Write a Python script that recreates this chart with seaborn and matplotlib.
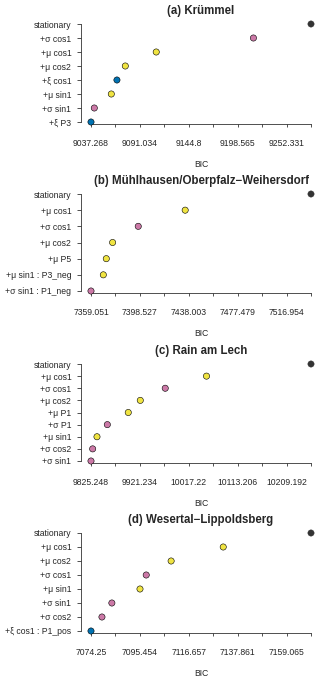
import matplotlib
matplotlib.use("Agg")
import matplotlib.pyplot as plt
import seaborn as sns
import numpy as np
import pandas as pd

sns.set_style("white")
plt.rcParams["font.family"] = ["Liberation Sans", "DejaVu Sans"]

# panel data: models listed top (stationary) to bottom (best), BIC
titles = ["(a) Krümmel",
          "(b) Mühlhausen/Oberpfalz\u2212Weihersdorf",
          "(c) Rain am Lech",
          "(d) Wesertal\u2212Lippoldsberg"]

models_a = ["stationary", "+σ cos1", "+μ cos1", "+μ cos2", "+ξ cos1", "+μ sin1", "+σ sin1", "+ξ P3"]
bic_a = [9279.215, 9215.9, 9109.0, 9075.0, 9065.8, 9059.6, 9040.9, 9037.268]
ticks_a = ["9037.268", "9091.034", "9144.8", "9198.565", "9252.331"]

models_b = ["stationary", "+μ cos1", "+σ cos1", "+μ cos2", "+μ P5", "+μ sin1 : P3_neg", "+σ sin1 : P1_neg"]
bic_b = [7536.693, 7435.1, 7397.2, 7376.5, 7371.4, 7369.0, 7359.051]
ticks_b = ["7359.051", "7398.527", "7438.003", "7477.479", "7516.954"]

models_c = ["stationary", "+μ cos1", "+σ cos1", "+μ cos2", "+μ P1", "+σ P1", "+μ sin1", "+σ cos2", "+σ sin1"]
bic_c = [10257.185, 10052.0, 9971.0, 9922.0, 9898.4, 9857.3, 9837.0, 9828.5, 9825.248]
ticks_c = ["9825.248", "9921.234", "10017.22", "10113.206", "10209.192"]

models_d = ["stationary", "+μ cos1", "+μ cos2", "+σ cos1", "+μ sin1", "+σ sin1", "+σ cos2", "+ξ cos1 : P1_pos"]
bic_d = [7169.668, 7131.6, 7109.0, 7098.2, 7095.5, 7083.3, 7079.0, 7074.25]
ticks_d = ["7074.25", "7095.454", "7116.657", "7137.861", "7159.065"]

palette = {"stationary": "#333333", "μ": "#F0E442", "σ": "#CC79A7", "ξ": "#0072B2"}


def param_of(label):
    for p in ["μ", "σ", "ξ"]:
        if p in label:
            return p
    return "stationary"


W, H = 320, 681
fig = plt.figure(figsize=(W / 100, H / 100), dpi=100)

panels = [(models_a, bic_a, ticks_a), (models_b, bic_b, ticks_b),
          (models_c, bic_c, ticks_c), (models_d, bic_d, ticks_d)]
tops = [24, 194, 364, 533]
bottoms = [122, 291, 461, 631]

for i, (models, bic, tlabels) in enumerate(panels):
    left, right = 91, 311
    ax = fig.add_axes([left / W, 1 - bottoms[i] / H, (right - left) / W, (bottoms[i] - tops[i]) / H])
    n = len(models)
    df = pd.DataFrame({"model": models, "BIC": bic, "y": np.arange(n)[::-1],
                       "param": [param_of(m) for m in models]})
    sns.scatterplot(data=df, x="BIC", y="y", hue="param", palette=palette, s=20,
                    edgecolor="black", linewidth=0.4, legend=False, ax=ax, clip_on=False, zorder=3)
    # stationary marker has no distinct edge
    ax.collections[0].set_edgecolors(["#333333" if p == "stationary" else "black" for p in df["param"]])

    lo, hi = min(bic), max(bic)
    ax.set_xlim(lo, hi)
    ax.set_ylim(0, n - 1)
    ticks = np.linspace(lo, hi, 10)
    ax.set_xticks(ticks)
    ax.set_xticklabels([tlabels[k // 2] if k % 2 == 0 else "" for k in range(10)])
    ax.set_yticks(df["y"])
    ax.set_yticklabels(models)

    for s in ["top", "right"]:
        ax.spines[s].set_visible(False)
    ax.spines["left"].set_position(("outward", 7.2))
    ax.spines["bottom"].set_position(("outward", 1.5))
    ax.spines["left"].set_bounds(0, n - 1)
    ax.spines["bottom"].set_bounds(lo, hi)
    for s in ["left", "bottom"]:
        ax.spines[s].set_color("#333333")
        ax.spines[s].set_linewidth(0.6)
    ax.tick_params(axis="x", length=2.5, width=0.6, color="#333333", pad=8, labelsize=6.2)
    ax.tick_params(axis="y", length=3, width=0.6, color="#333333", pad=4, labelsize=6.2)
    ax.tick_params(bottom=True, left=True)
    ax.set_xlabel("BIC", fontsize=6.2, labelpad=9)
    ax.set_ylabel("")
    ax.set_title(titles[i], fontsize=8.3, fontweight="bold", pad=7)
    ax.grid(False)

fig.savefig("out.png", dpi=100)
